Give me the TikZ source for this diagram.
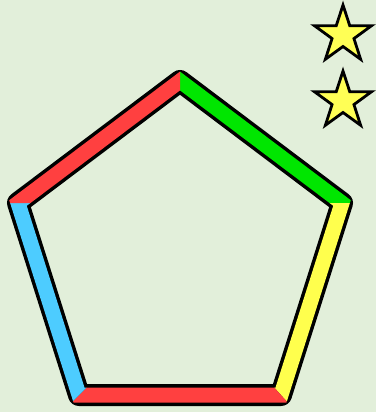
\documentclass[tikz,border=0pt]{standalone}
\usetikzlibrary{calc}
\definecolor{bg}{HTML}{E2EFDA}
\definecolor{ered}{HTML}{FF4040}
\definecolor{egreen}{HTML}{00E600}
\definecolor{eyellow}{HTML}{FFFF4D}
\definecolor{eblue}{HTML}{4DCCFF}
\definecolor{staryellow}{HTML}{FFFF55}
\tikzset{
  outline/.style={draw=black, line width=22pt, line join=round},
  band/.style={line width=15pt, line join=miter},
  starshape/.style={draw=black, fill=staryellow, line width=2.8pt, line join=miter}
}
\begin{document}
\begin{tikzpicture}[x=1pt,y=-1pt]
\fill[bg] (0,0) rectangle (376,412);
\useasboundingbox (0,0) rectangle (376,412);
\coordinate (t) at (180,81);
\coordinate (r) at (342,203);
\coordinate (br) at (281,395);
\coordinate (bl) at (79,395);
\coordinate (l) at (18,203);
\draw[outline] (t) -- (r) -- (br) -- (bl) -- (l) -- cycle;
% edge a -> b, with outward cut directions at a and b
\foreach \a/\ax/\ay/\b/\bx/\by/\col in {
  t/0/-40/r/40/0/egreen,
  r/40/0/br/27/30/eyellow,
  br/27/30/bl/-28/28/ered,
  bl/-28/28/l/-40/0/eblue,
  l/-40/0/t/0/-40/ered}{
  \begin{scope}
    \clip ($(\a)-(\ax,\ay)$) -- ($(\a)+(\ax,\ay)$) -- ($(\b)+(\bx,\by)$) -- ($(\b)-(\bx,\by)$) -- cycle;
    \draw[band, draw=\col] (t) -- (r) -- (br) -- (bl) -- (l) -- cycle;
  \end{scope}
}
\foreach \cy in {35,101}{
  \draw[starshape, shift={(343,\cy)}]
    (-90:30) -- (-54:11.5) -- (-18:30) -- (18:11.5) -- (54:30) -- (90:11.5)
    -- (126:30) -- (162:11.5) -- (198:30) -- (234:11.5) -- cycle;
}
\end{tikzpicture}
\end{document}
